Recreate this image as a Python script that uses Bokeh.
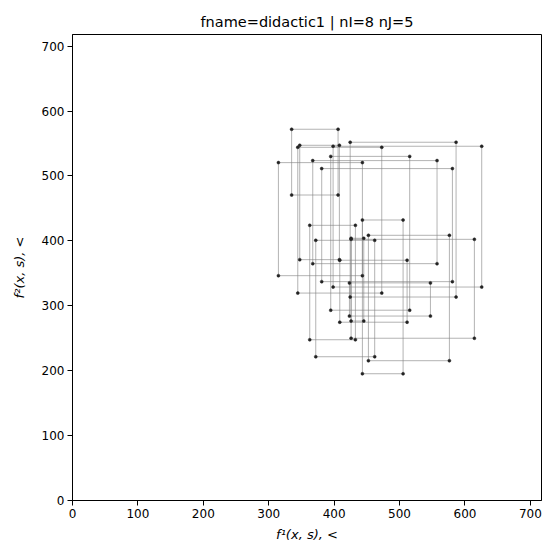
from bokeh.plotting import figure
from bokeh.models import Range1d, FixedTicker
from bokeh.embed import file_html
from bokeh.resources import INLINE

# Each box: f1 range (x_lo..x_hi) and f2 range (y_lo..y_hi); corners are the points
x_lo = [335.0, 314.8, 362.7, 371.9, 443.2, 452.4, 425.9, 425.9, 347.4, 344.4, 424.5, 398.4, 394.8, 367.3, 381.0, 423.4, 408.6]
x_hi = [406.0, 443.2, 432.5, 462.0, 505.4, 576.2, 445.3, 614.4, 408.0, 472.8, 586.4, 625.6, 515.5, 557.3, 580.8, 547.2, 511.5]
y_lo = [470.7, 346.4, 247.7, 221.5, 195.3, 215.4, 276.5, 250.0, 371.1, 319.6, 313.5, 328.9, 293.2, 364.9, 337.2, 284.2, 274.7]
y_hi = [572.0, 520.6, 424.0, 400.9, 432.2, 408.6, 404.0, 402.4, 547.3, 544.2, 552.0, 545.8, 530.2, 523.7, 511.4, 335.3, 370.2]

ticks = [0, 100, 200, 300, 400, 500, 600, 700]
title = "fname=didactic1 | nI=8 nJ=5"
xlabel = "f¹(x, s), <"
ylabel = "f²(x, s), <"

p = figure(width=543, height=545, output_backend="svg", toolbar_location=None,
           x_range=Range1d(0, 717), y_range=Range1d(0, 718),
           min_border_left=72, min_border_right=2, min_border_top=34, min_border_bottom=45)

p.title.text = title
p.title.align = "center"
p.title.text_font = "DejaVu Sans"
p.title.text_font_size = "14.5px"
p.title.text_font_style = "normal"
p.title.text_color = "#000000"

p.xgrid.visible = False
p.ygrid.visible = False
p.outline_line_color = "#000000"
p.outline_line_width = 1
p.outline_line_alpha = 1

for ax in (p.xaxis, p.yaxis):
    ax.ticker = FixedTicker(ticks=ticks)
    ax.major_label_text_font = "DejaVu Sans"
    ax.major_label_text_font_size = "12px"
    ax.major_label_text_color = "#000000"
    ax.axis_label_text_font = "DejaVu Sans"
    ax.axis_label_text_font_size = "13px"
    ax.axis_label_text_font_style = "italic"
    ax.axis_label_text_color = "#000000"
    ax.minor_tick_line_color = None
    ax.major_tick_in = 0
    ax.major_tick_out = 5
    ax.major_tick_line_color = "#000000"
    ax.axis_line_color = "#000000"
    ax.major_label_standoff = 3

p.xaxis.axis_label = xlabel
p.yaxis.axis_label = ylabel
p.xaxis.axis_label_standoff = 6
p.yaxis.axis_label_standoff = 12

p.quad(left=x_lo, right=x_hi, bottom=y_lo, top=y_hi, fill_color=None,
       line_color="#808080", line_alpha=0.6, line_width=1)

px, py = [], []
for a, b, c, d in zip(x_lo, x_hi, y_lo, y_hi):
    px += [a, b, a, b]
    py += [c, c, d, d]
p.scatter(px, py, size=3, color="#222222", line_width=0.5)

open("out.html", "w").write(file_html(p, INLINE))
